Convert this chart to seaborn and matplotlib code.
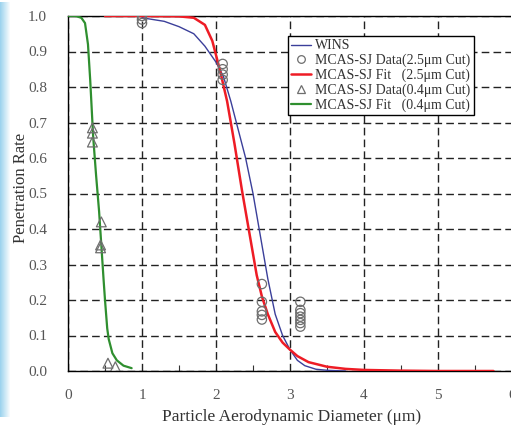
import numpy as np
import pandas as pd
import matplotlib
matplotlib.use("Agg")
import matplotlib.pyplot as plt
from matplotlib.patches import Rectangle
from matplotlib.lines import Line2D
import seaborn as sns

# ---- data ----
wins_x = [1.0, 1.3, 1.5, 1.7, 1.85, 2.0, 2.1, 2.2, 2.3, 2.4, 2.5, 2.6, 2.7, 2.8, 2.9, 3.0, 3.1, 3.2, 3.35, 3.5, 3.75]
wins_y = [0.995, 0.985, 0.97, 0.95, 0.915, 0.87, 0.83, 0.76, 0.68, 0.6, 0.5, 0.38, 0.26, 0.16, 0.1, 0.06, 0.03, 0.015, 0.005, 0.002, 0.0]

fit25_x = [0.5, 1.0, 1.5, 1.7, 1.85, 1.95, 2.05, 2.15, 2.25, 2.35, 2.45, 2.55, 2.62, 2.7, 2.8, 2.9, 3.0, 3.1, 3.25, 3.5, 3.75, 4.0, 4.5, 5.0, 5.75]
fit25_y = [1.0, 1.0, 0.999, 0.995, 0.975, 0.93, 0.85, 0.76, 0.64, 0.51, 0.39, 0.27, 0.21, 0.16, 0.11, 0.08, 0.06, 0.042, 0.025, 0.012, 0.006, 0.003, 0.001, 0.0, 0.0]

fit04_x = [0.0, 0.1, 0.18, 0.23, 0.27, 0.3, 0.34, 0.38, 0.42, 0.455, 0.48, 0.5, 0.53, 0.55, 0.6, 0.66, 0.75, 0.86]
fit04_y = [1.0, 1.0, 0.995, 0.98, 0.92, 0.82, 0.66, 0.55, 0.45, 0.34, 0.26, 0.2, 0.12, 0.09, 0.05, 0.03, 0.015, 0.008]

data25_x = [1.0, 1.0, 1.0, 2.09, 2.09, 2.09, 2.09, 2.62, 2.62, 2.62, 2.62, 2.62, 3.14, 3.14, 3.14, 3.14, 3.14, 3.14, 3.14]
data25_y = [1.0, 0.99, 0.98, 0.865, 0.85, 0.835, 0.82, 0.245, 0.195, 0.168, 0.158, 0.145, 0.195, 0.172, 0.163, 0.153, 0.144, 0.135, 0.125]

data04_x = [0.33, 0.33, 0.33, 0.45, 0.44, 0.44, 0.54, 0.64]
data04_y = [0.685, 0.67, 0.645, 0.42, 0.355, 0.347, 0.022, 0.012]

xticks = [0, 1, 2, 3, 4, 5, 6]
yticks = [0.0, 0.1, 0.2, 0.3, 0.4, 0.5, 0.6, 0.7, 0.8, 0.9, 1.0]

labels = ["WINS", "MCAS-SJ Data(2.5\u03bcm Cut)", "MCAS-SJ Fit   (2.5\u03bcm Cut)",
          "MCAS-SJ Data(0.4\u03bcm Cut)", "MCAS-SJ Fit   (0.4\u03bcm Cut)"]

# ---- style ----
sns.set_style("white")
plt.rcParams['font.family'] = ['Liberation Serif', 'DejaVu Serif']

W, H = 511, 425
fig = plt.figure(figsize=(W / 100, H / 100), dpi=100)

# left light-blue strip
n = 10
for i in range(n):
    a = 1 - i / n
    fig.patches.append(Rectangle((i / W, 8 / H), 1 / W, 1 - 8 / H - 2 / H, transform=fig.transFigure,
                                 facecolor=(0.55, 0.80, 0.92, a * 0.85), edgecolor='none', zorder=0))

ax = fig.add_axes([68 / W, (H - 371) / H, 444 / W, 355 / H])

wins_df = pd.DataFrame({"x": wins_x, "y": wins_y})
f25_df = pd.DataFrame({"x": fit25_x, "y": fit25_y})
f04_df = pd.DataFrame({"x": fit04_x, "y": fit04_y})
d25_df = pd.DataFrame({"x": data25_x, "y": data25_y})
d04_df = pd.DataFrame({"x": data04_x, "y": data04_y})

blue = "#3b3f9a"
red = "#ee1c25"
green = "#2f8f2f"
grey = "#6e6e6e"

sns.lineplot(data=wins_df, x="x", y="y", ax=ax, color=blue, lw=1.0, sort=False, zorder=3)
sns.scatterplot(data=d25_df, x="x", y="y", ax=ax, marker="o", s=45, facecolor="none",
                edgecolor=grey, linewidth=0.9, zorder=4)
sns.lineplot(data=f25_df, x="x", y="y", ax=ax, color=red, lw=1.8, sort=False, zorder=3)
sns.scatterplot(data=d04_df, x="x", y="y", ax=ax, marker="^", s=50, facecolor="none",
                edgecolor=grey, linewidth=0.9, zorder=4)
sns.lineplot(data=f04_df, x="x", y="y", ax=ax, color=green, lw=1.6, sort=False, zorder=3)

ax.set_xlim(0, 6)
ax.set_ylim(0, 1.0)
ax.set_xticks(xticks)
ax.set_yticks(yticks)
ax.set_yticklabels([f"{v:.1f}" for v in yticks])
ax.set_xticks([0.5, 1.5, 2.5, 3.5, 4.5, 5.5], minor=True)
ax.tick_params(axis='x', which='minor', direction='in', length=4, width=0.8, bottom=True, color='#333333')
ax.tick_params(axis='both', which='major', length=0, labelsize=11, labelcolor='#555555')
ax.tick_params(axis='x', which='major', pad=13)
ax.tick_params(axis='y', which='major', pad=15)

ax.grid(True, which='major', linestyle=(0, (5.5, 3)), color='#222222', lw=1.0)
for s in ax.spines.values():
    s.set_color('black')
    s.set_linewidth(1.0)

ax.set_xlabel("Particle Aerodynamic Diameter (\u03bcm)", fontsize=12.5, color='#333333')
ax.set_ylabel("Penetration Rate", fontsize=12, color='#333333')
ax.xaxis.set_label_coords(0.5 + (292 - 290) / 444, -(409 - 371) / 355)
ax.yaxis.set_label_coords(-(68 - 29) / 444, (371 - 188) / 355)

handles = [
    Line2D([], [], color=blue, lw=1.0),
    Line2D([], [], marker='o', ls='none', markerfacecolor='none', markeredgecolor=grey, markersize=5.5, mew=0.9),
    Line2D([], [], color=red, lw=1.8),
    Line2D([], [], marker='^', ls='none', markerfacecolor='none', markeredgecolor=grey, markersize=6, mew=0.9),
    Line2D([], [], color=green, lw=1.6),
]
leg = ax.legend(handles, labels, loc='upper left', bbox_to_anchor=((288 - 68) / 444, (371 - 36) / 355),
                frameon=True, fancybox=False, fontsize=10, handlelength=1.4, handletextpad=0.3,
                borderpad=0.25, labelspacing=0.1, borderaxespad=0)
leg.get_frame().set_edgecolor('black')
leg.get_frame().set_linewidth(1.0)
leg.get_frame().set_alpha(1)
for t in leg.get_texts():
    t.set_color('#333333')

fig.savefig("out.png", dpi=100)
